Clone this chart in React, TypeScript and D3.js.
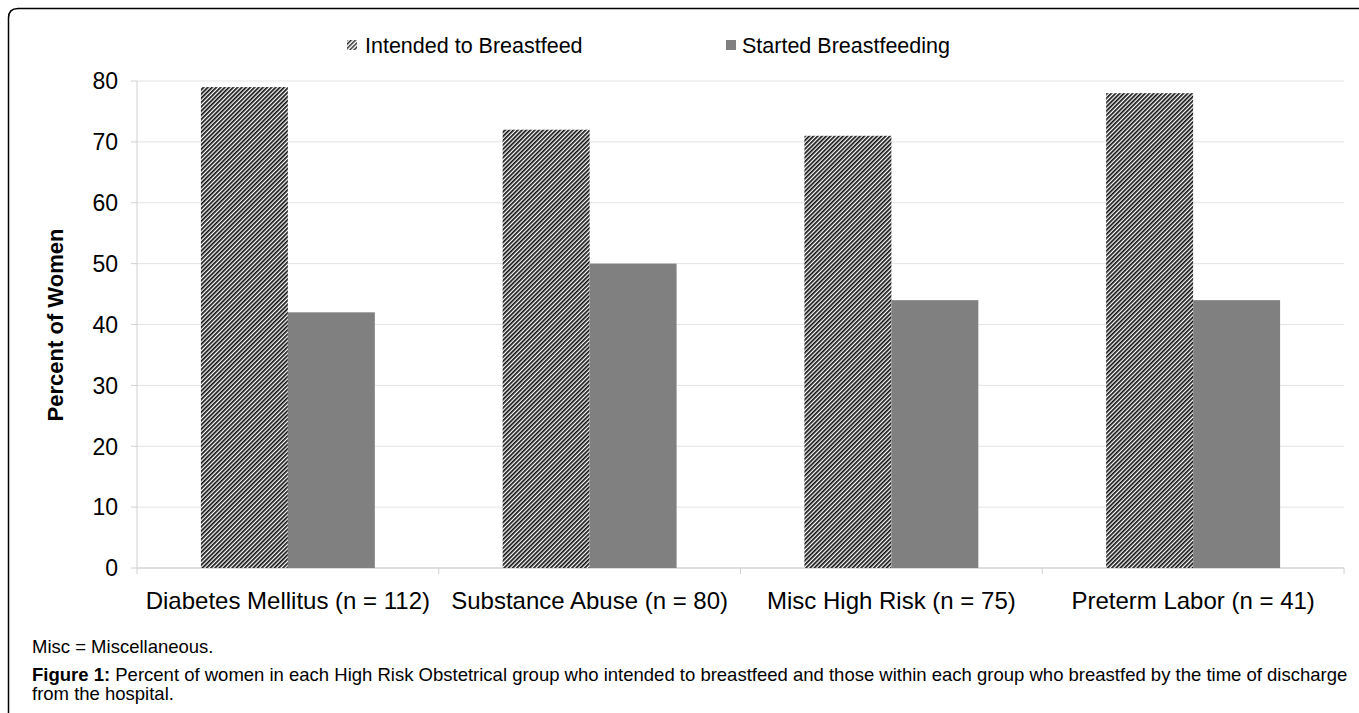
import React from "react";
import * as d3 from "d3";

const categories = [
  "Diabetes Mellitus (n = 112)",
  "Substance Abuse (n = 80)",
  "Misc High Risk (n = 75)",
  "Preterm Labor (n = 41)",
];
const seriesNames = ["Intended to Breastfeed", "Started Breastfeeding"];
const intended = [79, 72, 71, 78];
const started = [42, 50, 44, 44];
const yTicks = [0, 10, 20, 30, 40, 50, 60, 70, 80];

const W = 1359;
const H = 713;
const plotLeft = 137;
const plotRight = 1344;
const plotTop = 81;
const plotBottom = 568;
const FONT = "'Liberation Sans', Arial, sans-serif";

export default function App() {
  const x0 = d3.scaleBand<string>().domain(categories).range([plotLeft, plotRight]).paddingInner(0).paddingOuter(0);
  const x1 = d3.scaleBand<string>().domain(seriesNames).range([0, x0.bandwidth()]).paddingInner(0).paddingOuter(0.735);
  const y = d3.scaleLinear().domain([0, 80]).range([plotBottom, plotTop]);
  const values = [intended, started];
  const fills = ["url(#hatch)", "#808080"];

  return (
    <svg width={W} height={H} style={{ position: "absolute", left: 0, top: 0 }}>
      <defs>
        <pattern id="hatch" patternUnits="userSpaceOnUse" width={3} height={3} patternTransform="rotate(-45)">
          <rect x={0} y={0} width={3} height={3} fill="#ffffff" />
          <rect x={0} y={0} width={3} height={1.7} fill="#111111" />
        </pattern>
        <pattern id="hatchLegend" patternUnits="userSpaceOnUse" width={3} height={3} patternTransform="rotate(-45)">
          <rect x={0} y={0} width={3} height={3} fill="#ffffff" />
          <rect x={0} y={0} width={3} height={1.4} fill="#222222" />
        </pattern>
      </defs>
      <rect x={0} y={0} width={W} height={H} fill="#ffffff" />
      {/* frame */}
      <path d={`M8.5,${H + 5} L8.5,18 Q8.5,8.5 18,8.5 L${W + 5},8.5`} fill="none" stroke="#000" strokeWidth={1.5} />

      {/* gridlines */}
      {yTicks.map((t) => (
        <line key={"g" + t} x1={plotLeft} x2={plotRight} y1={y(t)} y2={y(t)} stroke={t === 0 ? "#bfbfbf" : "#e3e3e3"} strokeWidth={1} />
      ))}
      {/* y axis */}
      <line x1={plotLeft} x2={plotLeft} y1={plotTop} y2={plotBottom} stroke="#d0d0d0" />
      {yTicks.map((t) => (
        <g key={"t" + t}>
          <line x1={plotLeft - 6} x2={plotLeft} y1={y(t)} y2={y(t)} stroke="#d0d0d0" />
          <text x={118} y={y(t)} dy="0.36em" textAnchor="end" fontFamily={FONT} fontSize={23} fill="#000">{t}</text>
        </g>
      ))}
      {/* x ticks */}
      {[...categories.map((c) => x0(c) as number), plotRight].map((xx, i) => (
        <line key={"xt" + i} x1={xx} x2={xx} y1={plotBottom} y2={plotBottom + 6} stroke="#d0d0d0" />
      ))}

      {/* bars */}
      {categories.map((c, ci) => (
        <g key={c} transform={`translate(${x0(c)},0)`}>
          {seriesNames.map((s, si) => (
            <rect key={s} x={x1(s)} y={y(values[si][ci])} width={x1.bandwidth()} height={plotBottom - y(values[si][ci])} fill={fills[si]} />
          ))}
        </g>
      ))}

      {/* category labels */}
      {categories.map((c) => (
        <text key={"l" + c} x={(x0(c) as number) + x0.bandwidth() / 2} y={609} textAnchor="middle" fontFamily={FONT} fontSize={24} fill="#000">{c}</text>
      ))}

      {/* y title */}
      <text transform="translate(63,325) rotate(-90)" textAnchor="middle" fontFamily={FONT} fontSize={22} fontWeight="bold" fill="#000">Percent of Women</text>

      {/* legend */}
      <rect x={347} y={40} width={10} height={10} fill="url(#hatchLegend)" />
      <text x={365} y={53} fontFamily={FONT} fontSize={21.5} fill="#000">{seriesNames[0]}</text>
      <rect x={726} y={40} width={10} height={10} fill="#808080" />
      <text x={742} y={53} fontFamily={FONT} fontSize={21.5} fill="#000">{seriesNames[1]}</text>

      {/* captions */}
      <text x={32} y={653} fontFamily={FONT} fontSize={18.5} fill="#000">Misc = Miscellaneous.</text>
      <text x={32} y={681} fontFamily={FONT} fontSize={18.5} fill="#000">
        <tspan fontWeight="bold">Figure 1:</tspan> Percent of women in each High Risk Obstetrical group who intended to breastfeed and those within each group who breastfed by the time of discharge
      </text>
      <text x={32} y={700} fontFamily={FONT} fontSize={18.5} fill="#000">from the hospital.</text>
    </svg>
  );
}
